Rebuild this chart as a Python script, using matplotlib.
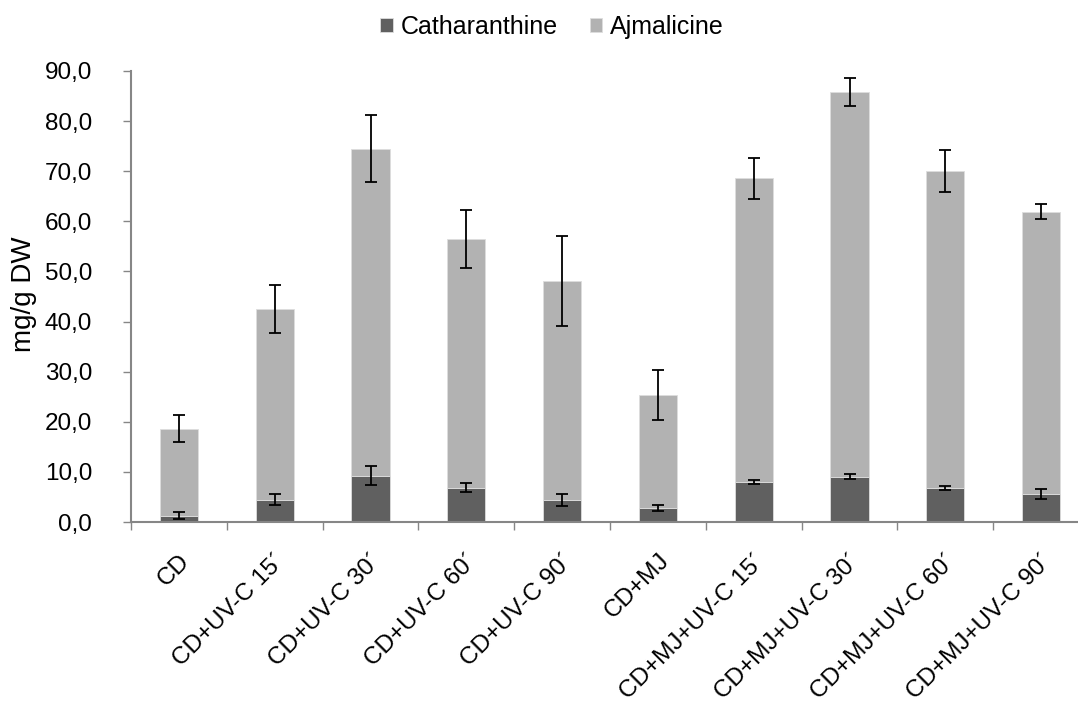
import numpy as np
import matplotlib
matplotlib.use("Agg")
import matplotlib.pyplot as plt
from matplotlib.ticker import FuncFormatter, FixedLocator

plt.rcParams["font.family"] = ["Liberation Sans", "DejaVu Sans"]

# ── data ─────────────────────────────────────────────────────────────────────
categories = ["CD", "CD+UV-C 15´", "CD+UV-C 30´", "CD+UV-C 60´", "CD+UV-C 90´",
              "CD+MJ", "CD+MJ+UV-C 15´", "CD+MJ+UV-C 30´", "CD+MJ+UV-C 60´",
              "CD+MJ+UV-C 90´"]
catharanthine = [1.2, 4.4, 9.2, 6.8, 4.4, 2.8, 8.0, 9.0, 6.8, 5.6]
cath_err      = [0.7, 1.1, 1.9, 0.9, 1.2, 0.55, 0.35, 0.5, 0.35, 1.0]
total         = [18.6, 42.5, 74.5, 56.4, 48.1, 25.3, 68.6, 85.9, 70.1, 61.9]
total_err     = [2.7, 4.7, 6.7, 5.8, 9.0, 5.0, 4.1, 2.8, 4.2, 1.5]
ajmalicine = [t - c for t, c in zip(total, catharanthine)]

# ── plot ─────────────────────────────────────────────────────────────────────
W, H = 1078, 707
fig = plt.figure(figsize=(W / 100, H / 100), dpi=100)
ax = fig.add_axes([131 / W, 185 / H, (1089 - 131) / W, (522 - 71) / H])

x = np.arange(len(categories))
bw = 0.4
dark, light = "#606060", "#b2b2b2"
ax.bar(x, catharanthine, bw, color=dark, edgecolor="#dddddd", lw=0.6,
       label="Catharanthine", zorder=2)
ax.bar(x, ajmalicine, bw, bottom=catharanthine, color=light,
       edgecolor="#dddddd", lw=0.6, label="Ajmalicine", zorder=2)
ekw = dict(fmt="none", ecolor="black", elinewidth=1.3, capsize=4,
           capthick=1.3, zorder=3)
ax.errorbar(x, catharanthine, yerr=cath_err, **ekw)
ax.errorbar(x, total, yerr=total_err, **ekw)

ax.set_xlim(-0.5, len(categories) - 0.5)
ax.set_ylim(0, 90)
ax.set_yticks(np.arange(0, 91, 10))
ax.yaxis.set_major_formatter(FuncFormatter(lambda v, p: f"{v:.1f}".replace(".", ",")))
ax.set_xticks(x)
ax.set_xticklabels(categories, rotation=45, ha="right", rotation_mode="anchor")
ax.xaxis.set_minor_locator(FixedLocator(np.arange(-0.5, len(categories), 1)))
ax.tick_params(axis="x", which="major", length=0, pad=20, labelsize=17.5)
ax.tick_params(axis="x", which="minor", length=6, color="#868686", width=1)
ax.tick_params(axis="y", length=6, color="#868686", width=1, labelsize=17.5, pad=22)

for s in ["top", "right"]:
    ax.spines[s].set_visible(False)
for s in ["left", "bottom"]:
    ax.spines[s].set_color("#868686")
    ax.spines[s].set_linewidth(1.5)

fig.text(24 / W, 1 - 294 / H, "mg/g DW", rotation=90, fontsize=20,
         ha="center", va="center")

fig.legend(loc="center", bbox_to_anchor=(552 / W, 1 - 27 / H), ncol=2,
           frameon=False, fontsize=18, handlelength=0.5, handleheight=0.5,
           handletextpad=0.3, columnspacing=1.3)

fig.savefig("out.png", dpi=100)
